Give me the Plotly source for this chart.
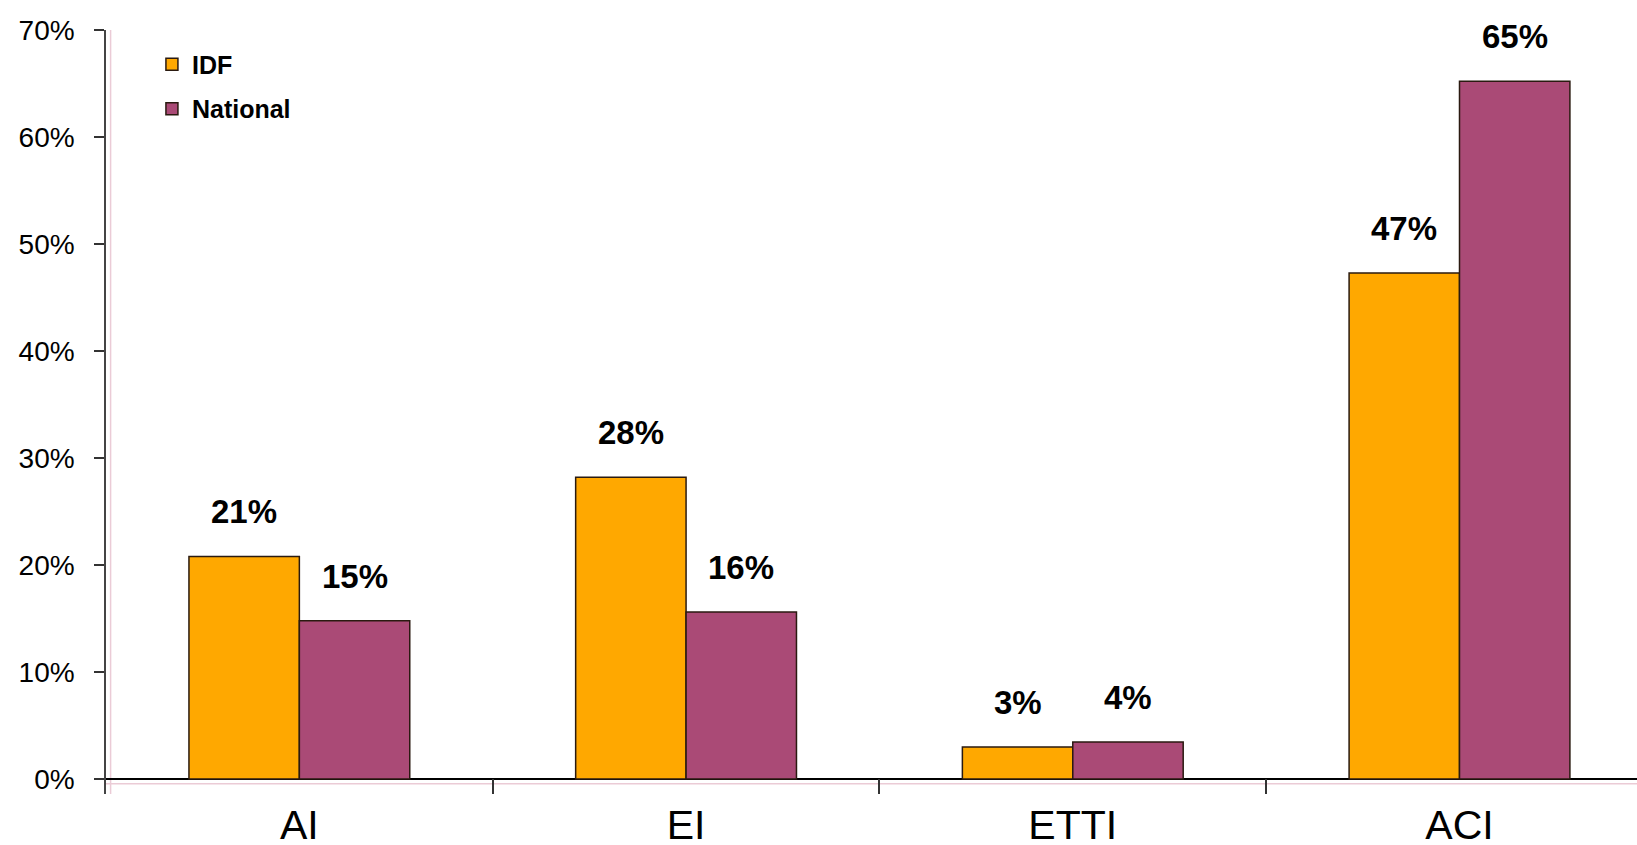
import plotly.graph_objects as go

categories = ["AI", "EI", "ETTI", "ACI"]
idf_values = [20.8, 28.2, 3.0, 47.3]
national_values = [14.8, 15.6, 3.45, 65.2]
idf_labels = ["21%", "28%", "3%", "47%"]
national_labels = ["15%", "16%", "4%", "65%"]
y_tick_vals = [0, 10, 20, 30, 40, 50, 60, 70]
y_tick_text = ["0%", "10%", "20%", "30%", "40%", "50%", "60%", "70%"]

IDF_COLOR = "#FFA800"
NAT_COLOR = "#AA4A76"
EDGE = "#2a1a10"
FONT = "Liberation Sans, Arial, sans-serif"

fig = go.Figure()
fig.add_trace(go.Bar(
    x=categories, y=idf_values, name="IDF", legendgroup="a",
    marker=dict(color=IDF_COLOR, line=dict(color=EDGE, width=1.5)),
))
fig.add_trace(go.Bar(
    x=categories, y=national_values, name="National", legendgroup="b",
    marker=dict(color=NAT_COLOR, line=dict(color=EDGE, width=1.5)),
))

group_frac = 0.571
off = group_frac / 4
annotations = []
for i, cat in enumerate(categories):
    for v, lab, d in ((idf_values[i], idf_labels[i], -off), (national_values[i], national_labels[i], off)):
        annotations.append(dict(
            x=i + d, y=v, xref="x", yref="y", text=lab, showarrow=False,
            yanchor="bottom", xanchor="center", yshift=24,
            font=dict(family=FONT, size=33, color="black", weight="bold"),
        ))

fig.update_layout(
    width=1637, height=845,
    margin=dict(l=106, r=0, t=30, b=51),
    paper_bgcolor="white", plot_bgcolor="white",
    barmode="group", bargap=1 - group_frac, bargroupgap=0,
    font=dict(family=FONT, color="black"),
    showlegend=True,
    legend=dict(
        x=0.030, y=0.985, xanchor="left", yanchor="top",
        font=dict(family=FONT, size=25, color="black", weight="bold"),
        bgcolor="rgba(0,0,0,0)", tracegroupgap=9, traceorder="grouped",
    ),
    annotations=annotations,
    xaxis=dict(
        type="category", range=[-0.5, 3.459], automargin=False,
        showline=False, showgrid=False, zeroline=False,
        ticks="inside", tickson="boundaries", ticklen=15, tickcolor="#333", tickwidth=1.5,
        ticklabelstandoff=3,
        tickfont=dict(family=FONT, size=41, color="black"),
    ),
    yaxis=dict(
        range=[-1.4, 70], automargin=False,
        tickvals=y_tick_vals, ticktext=y_tick_text,
        showline=True, linecolor="#444", linewidth=1.5,
        ticks="outside", ticklen=10, tickcolor="#333", tickwidth=1.5,
        ticklabelstandoff=14,
        tickfont=dict(family=FONT, size=28, color="black"),
        showgrid=False, zeroline=True, zerolinecolor="black", zerolinewidth=1.5,
    ),
    shapes=[
        dict(type="line", xref="paper", yref="paper", x0=0.003, x1=0.003, y0=0, y1=1,
             line=dict(color="#EBCBD6", width=1.5), layer="below"),
        dict(type="line", xref="paper", yref="y", x0=0, x1=1, y0=-0.45, y1=-0.45,
             line=dict(color="#EBCBD6", width=1.5), layer="below"),
    ],
)

fig.write_html(
    "out.html",
    config={"displayModeBar": False},
    post_script="document.body.style.margin='0';document.body.style.overflow='hidden';",
)
